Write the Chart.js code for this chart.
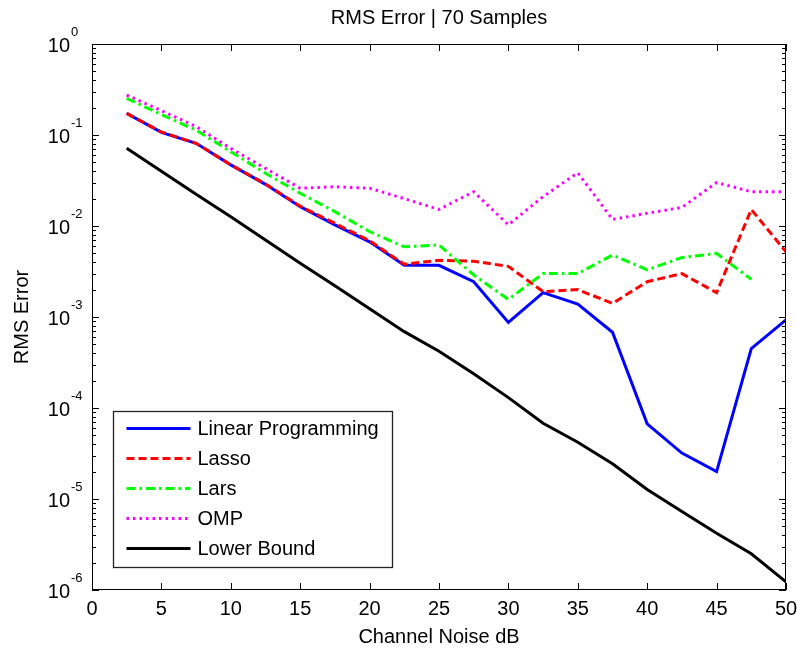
<!DOCTYPE html>
<html lang="en">
<head>
  <meta charset="UTF-8">
  <title>RMS Error | 70 Samples</title>
  <script src="https://cdn.jsdelivr.net/npm/chart.js"></script>
  <style>
    body { margin: 0; background: #fff; }
    canvas { display: block; }
  </style>
</head>
<body>
  <canvas id="rms-chart" width="797" height="650"></canvas>

  <script>
    // channel noise (dB) where every method was measured
    const noiseDb = [2.5, 5, 7.5, 10, 12.5, 15, 17.5, 20, 22.5, 25, 27.5, 30, 32.5, 35, 37.5, 40, 42.5, 45, 47.5, 50];

    // RMS error per method
    const linearProg = [0.173, 0.107, 0.081, 0.047, 0.0287, 0.0163, 0.0103, 0.0067, 0.0037, 0.0037, 0.00244, 0.00087, 0.00185, 0.00139, 0.00068, 0.000067, 0.000032, 0.00002, 0.00045, 0.00093];
    const lasso = [0.173, 0.108, 0.081, 0.047, 0.029, 0.0165, 0.0107, 0.0069, 0.0038, 0.0042, 0.0041, 0.0036, 0.0019, 0.002, 0.00141, 0.00244, 0.003, 0.00185, 0.0152, 0.0052];
    const lars = [0.253, 0.168, 0.113, 0.0656, 0.038, 0.0229, 0.0144, 0.0087, 0.0059, 0.0062, 0.0029, 0.00156, 0.003, 0.003, 0.0048, 0.0033, 0.0045, 0.005, 0.0026, null];
    const omp = [0.275, 0.185, 0.124, 0.0713, 0.043, 0.026, 0.027, 0.026, 0.02, 0.0152, 0.0238, 0.0103, 0.021, 0.0385, 0.0118, 0.0138, 0.016, 0.03, 0.0238, 0.0238];
    const lowerBound = [0.0714, 0.04, 0.0224, 0.0126, 0.007, 0.0039, 0.0022, 0.00123, 0.00069, 0.00042, 0.000238, 0.00013, 0.000068, 0.000042, 0.0000244, 0.0000127, 0.0000073, 0.0000042, 0.0000025, 0.00000123];

    // axis ticks
    const xTicks = [0, 5, 10, 15, 20, 25, 30, 35, 40, 45, 50];
    const yTicks = [1e-6, 1e-5, 1e-4, 1e-3, 1e-2, 1e-1, 1e0];

    const FONT = '"Liberation Sans", Arial, sans-serif';
    Chart.defaults.font.family = FONT;
    Chart.defaults.color = '#000';

    function points(values) {
      return noiseDb.map((x, i) => ({ x: x, y: values[i] }));
    }

    // matlab style box, inward ticks, 10^n labels and the legend
    const matlabAxes = {
      id: 'matlabAxes',
      afterDatasetsDraw(chart) {
        const ctx = chart.ctx;
        const area = chart.chartArea;
        const left = area.left + 21.5;
        const top = area.bottom - 178.5;
        ctx.save();
        ctx.fillStyle = '#fff';
        ctx.fillRect(left, top, 279, 156);
        ctx.strokeStyle = '#222';
        ctx.lineWidth = 1.3;
        ctx.strokeRect(left, top, 279, 156);
        ctx.font = '20px ' + FONT;
        ctx.textBaseline = 'middle';
        chart.data.datasets.forEach((ds, i) => {
          const y = top + 17 + i * 30;
          ctx.strokeStyle = ds.borderColor;
          ctx.lineWidth = ds.borderWidth;
          ctx.setLineDash(ds.borderDash || []);
          ctx.beginPath();
          ctx.moveTo(left + 13, y);
          ctx.lineTo(left + 77, y);
          ctx.stroke();
          ctx.setLineDash([]);
          ctx.fillStyle = '#000';
          ctx.fillText(ds.label, left + 84, y + 1);
        });
        ctx.restore();
      },
      afterDraw(chart) {
        const ctx = chart.ctx;
        const area = chart.chartArea;
        const xs = chart.scales.x;
        const ys = chart.scales.y;
        ctx.save();
        ctx.strokeStyle = '#000';
        ctx.lineWidth = 1;
        ctx.strokeRect(area.left + 0.5, area.top + 0.5, area.right - area.left - 1, area.bottom - area.top - 1);

        ctx.beginPath();
        xTicks.forEach(v => {
          const px = Math.round(xs.getPixelForValue(v)) + 0.5;
          ctx.moveTo(px, area.bottom);
          ctx.lineTo(px, area.bottom - 7);
          ctx.moveTo(px, area.top);
          ctx.lineTo(px, area.top + 7);
        });
        yTicks.forEach((v, i) => {
          const py = Math.round(ys.getPixelForValue(v)) + 0.5;
          ctx.moveTo(area.left, py);
          ctx.lineTo(area.left + 7, py);
          ctx.moveTo(area.right, py);
          ctx.lineTo(area.right - 7, py);
          if (i < yTicks.length - 1) {
            for (let k = 2; k <= 9; k++) {
              const pm = Math.round(ys.getPixelForValue(v * k)) + 0.5;
              ctx.moveTo(area.left, pm);
              ctx.lineTo(area.left + 4, pm);
              ctx.moveTo(area.right, pm);
              ctx.lineTo(area.right - 4, pm);
            }
          }
        });
        ctx.stroke();

        // y labels as 10 with a raised exponent
        ctx.fillStyle = '#000';
        ctx.textBaseline = 'alphabetic';
        yTicks.forEach(v => {
          const py = ys.getPixelForValue(v);
          const exp = Math.round(Math.log10(v));
          ctx.font = '20px ' + FONT;
          ctx.textAlign = 'right';
          ctx.fillText('10', area.left - 22, py + 8);
          ctx.font = '13px ' + FONT;
          ctx.textAlign = 'left';
          ctx.fillText(String(exp), area.left - 21, py - 8);
        });
        ctx.restore();
      }
    };

    const ctx = document.getElementById('rms-chart').getContext('2d');
    const rmsChart = new Chart(ctx, {
      type: 'line',
      data: {
        datasets: [
          { label: 'Linear Programming', data: points(linearProg), borderColor: '#0000ff', borderWidth: 3, order: 5 },
          { label: 'Lasso', data: points(lasso), borderColor: '#ff0000', borderWidth: 3, borderDash: [8, 4], order: 4 },
          { label: 'Lars', data: points(lars), borderColor: '#00ff00', borderWidth: 3, borderDash: [9, 4, 2.5, 4], order: 3 },
          { label: 'OMP', data: points(omp), borderColor: '#ff00ff', borderWidth: 3, borderDash: [2.5, 4], order: 2 },
          { label: 'Lower Bound', data: points(lowerBound), borderColor: '#000000', borderWidth: 3, order: 1 }
        ]
      },
      options: {
        responsive: false,
        animation: false,
        layout: { padding: { left: 0, right: 11, top: 0, bottom: 0 } },
        elements: {
          point: { radius: 0 },
          line: { tension: 0, fill: false, borderCapStyle: 'butt' }
        },
        plugins: {
          legend: { display: false },
          tooltip: { enabled: false }
        },
        scales: {
          x: {
            type: 'linear',
            position: 'bottom',
            min: 0,
            max: 50,
            afterBuildTicks: scale => { scale.ticks = xTicks.map(v => ({ value: v })); },
            afterFit: scale => { scale.height = 60; scale.paddingLeft = 0; scale.paddingRight = 0; },
            grid: { display: false, drawTicks: false },
            border: { display: false },
            ticks: { font: { size: 20 }, padding: 7, maxRotation: 0 },
            title: { display: true, text: 'Channel Noise dB', font: { size: 20 }, padding: { top: 0, bottom: 1 } }
          },
          top: {
            type: 'linear',
            position: 'top',
            min: 0,
            max: 50,
            afterFit: scale => { scale.height = 44; scale.paddingLeft = 0; scale.paddingRight = 0; },
            grid: { display: false, drawTicks: false },
            border: { display: false },
            ticks: { display: false },
            title: { display: true, text: 'RMS Error | 70 Samples', font: { size: 20 }, padding: { top: 6, bottom: 0 } }
          },
          y: {
            type: 'logarithmic',
            position: 'left',
            min: 1e-6,
            max: 1,
            afterBuildTicks: scale => { scale.ticks = yTicks.map(v => ({ value: v })); },
            afterFit: scale => { scale.width = 92; },
            grid: { display: false, drawTicks: false },
            border: { display: false },
            ticks: { display: false },
            title: { display: true, text: 'RMS Error', font: { size: 20 }, padding: { top: 10, bottom: 0 } }
          }
        }
      },
      plugins: [matlabAxes]
    });
  </script>
</body>
</html>
